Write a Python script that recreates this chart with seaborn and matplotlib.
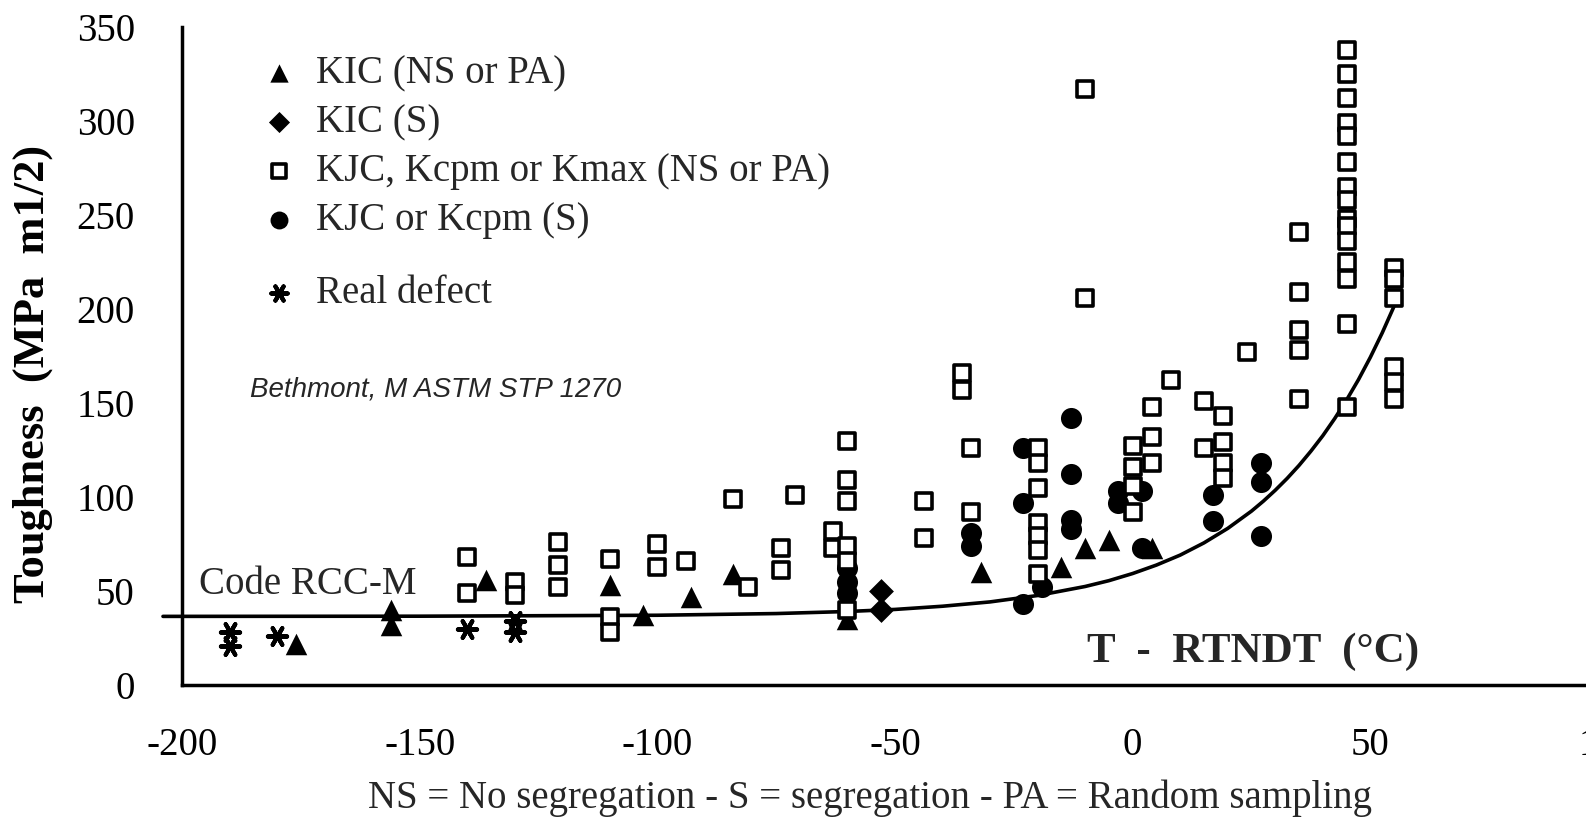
import matplotlib
matplotlib.use("Agg")
import matplotlib.pyplot as plt
import seaborn as sns

# ---------------- data ----------------
kic_ns_x = [-176, -156, -156, -136, -110, -103, -93, -84, -60, -32, -15, -10, -5, 4]
kic_ns_y = [22, 40, 32, 56, 53, 37, 47, 59, 35, 60, 63, 73, 77, 73]

kic_s_x = [-53, -53]
kic_s_y = [50, 40]

kjc_s_x = [-60, -60, -60, -34, -34, -23, -23, -23, -19, -13, -13, -13, -13,
           -3, -3, 2, 2, 17, 17, 27, 27, 27]
kjc_s_y = [62, 55, 49, 81, 74, 126, 97, 43, 52, 142, 112, 88, 83,
           103, 97, 103, 73, 101, 87, 118, 108, 79]

real_x = [-190, -190, -180, -140, -130, -130]
real_y = [28, 21, 26, 30, 34, 28]

kjc_ns_x = ([-140] * 2 + [-130] * 2 + [-121] * 3 + [-110] * 3 + [-100] * 2 + [-94, -84, -81, -71]
            + [-74] * 2 + [-63] * 2 + [-60] * 6 + [-44] * 2 + [-36] * 2 + [-34] * 2 + [-20] * 7
            + [-10] * 2 + [0] * 4 + [4] * 3 + [8] + [15] * 2 + [19] * 4 + [24] + [35] * 5
            + [45] * 15 + [55] * 6)
kjc_ns_y = ([68, 49] + [55, 48] + [76, 64, 52] + [67, 36, 28] + [75, 63] + [66, 99, 52, 101]
            + [73, 61] + [82, 73] + [130, 109, 98, 74, 66, 40] + [98, 78] + [166, 157] + [126, 92]
            + [126, 118, 105, 86, 79, 72, 59]
            + [317, 206] + [127, 116, 106, 92] + [148, 132, 118] + [162] + [151, 126]
            + [143, 129, 118, 110] + [177] + [241, 209, 189, 178, 152]
            + [338, 325, 312, 299, 292, 278, 265, 258, 248, 244, 236, 225, 216, 192, 148]
            + [222, 216, 206, 169, 161, 152])

# Code RCC-M reference curve
curve_x = [-204, -150, -100, -75, -60, -50, -40, -30, -20, -10, -5, 0, 5, 10, 15, 20,
           25, 27.5, 30, 32.5, 35, 37.5, 40, 42.5, 45, 47.5, 50, 52.5, 55]
curve_y = [36.5, 36.6, 37.1, 38.0, 39.1, 40.2, 41.9, 44.2, 47.6, 52.4, 55.5, 59.3, 63.8, 69.1,
           75.6, 83.3, 92.5, 97.8, 103.6, 109.9, 116.8, 124.4, 132.6, 141.7, 151.6, 162.4,
           174.3, 187.3, 201.5]

x_ticks = [-200, -150, -100, -50, 0, 50, 100]
x_ticklabels = ["-200", "-150", "-100", "-50", "0", "50", "100"]
y_ticks = [0, 50, 100, 150, 200, 250, 300, 350]

lab_kic_ns = "KIC (NS or PA)"
lab_kic_s = "KIC (S)"
lab_kjc_ns = "KJC, Kcpm or Kmax (NS or PA)"
lab_kjc_s = "KJC or Kcpm (S)"
lab_real = "Real defect"

# ---------------- styling ----------------
sns.set_theme(style="white")
plt.rcParams['font.family'] = ['Liberation Serif', 'DejaVu Serif']

W, H = 1586, 821
fig = plt.figure(figsize=(W / 100, H / 100), dpi=100)
ax = fig.add_axes([182 / W, (H - 685) / H, (1608 - 182) / W, (685 - 27) / H])

sns.lineplot(x=curve_x, y=curve_y, color="black", linewidth=2.6, sort=False,
             ax=ax, clip_on=False, zorder=2)

sns.scatterplot(x=kic_ns_x, y=kic_ns_y, marker="^", s=240, color="black",
                edgecolor="black", linewidth=0, label=lab_kic_ns, legend=False, ax=ax, zorder=3)
sns.scatterplot(x=kic_s_x, y=kic_s_y, marker="D", s=160, color="black",
                edgecolor="black", linewidth=0, label=lab_kic_s, legend=False, ax=ax, zorder=3)
sns.scatterplot(x=kjc_s_x, y=kjc_s_y, marker="o", s=230, color="black",
                edgecolor="black", linewidth=0, label=lab_kjc_s, legend=False, ax=ax, zorder=3)
sns.scatterplot(x=real_x, y=real_y, marker=(6, 2, 90), s=190, color="black",
                edgecolor="black", linewidth=3.0, label=lab_real, legend=False, ax=ax, zorder=3)
sns.scatterplot(x=kjc_ns_x, y=kjc_ns_y, marker="s", s=140, color="black", facecolor="white",
                edgecolor="black", linewidth=2.6, label=lab_kjc_ns, legend=False, ax=ax, zorder=4)

ax.set_xlim(-200, 100)
ax.set_ylim(0, 350)
ax.set_xticks(x_ticks)
ax.set_xticklabels(x_ticklabels)
ax.set_yticks(y_ticks)
ax.grid(False)
for side in ("top", "right"):
    ax.spines[side].set_visible(False)
for side in ("left", "bottom"):
    ax.spines[side].set_color("black")
    ax.spines[side].set_linewidth(2.5)
ax.tick_params(axis="both", direction="inout", length=20, width=2.5, colors="black",
               labelsize=28)
ax.tick_params(axis="y", pad=24)
ax.tick_params(axis="x", pad=20)

ax.set_xlabel("")
ax.set_ylabel("Toughness  (MPa  m1/2)", fontsize=32, fontweight="bold", color="black")
ax.yaxis.set_label_coords(-0.0905, 0.4726)

# legend
hd, lb = ax.get_legend_handles_labels()
hmap = dict(zip(lb, hd))
order = [lab_kic_ns, lab_kic_s, lab_kjc_ns, lab_kjc_s]
leg_kw = dict(loc="upper left", bbox_transform=fig.transFigure, frameon=False, fontsize=28,
              markerscale=0.85, handlelength=0.85, handletextpad=0.55, borderpad=0,
              borderaxespad=0)
leg1 = ax.legend([hmap[k] for k in order], order, bbox_to_anchor=(262 / W, 1 - 55 / H),
                 labelspacing=0.31, **leg_kw)
ax.add_artist(leg1)
ax.legend([hmap[lab_real]], [lab_real], bbox_to_anchor=(262 / W, 1 - 275 / H), **leg_kw)

# annotations
fig.text(199 / W, 1 - 585 / H, "Code RCC-M", fontsize=28, ha="left", va="center")
fig.text(250 / W, 1 - 389 / H, "Bethmont, M ASTM STP 1270", fontsize=20, style="italic",
         family=["Liberation Sans", "DejaVu Sans"], ha="left", va="center")
fig.text(1087 / W, 1 - 652 / H, "T  -  RTNDT  (°C)", fontsize=31, fontweight="bold",
         ha="left", va="center")
fig.text(870 / W, 1 - 798 / H, "NS = No segregation - S = segregation - PA = Random sampling",
         fontsize=28, ha="center", va="center")

fig.savefig("out.png", dpi=100)
